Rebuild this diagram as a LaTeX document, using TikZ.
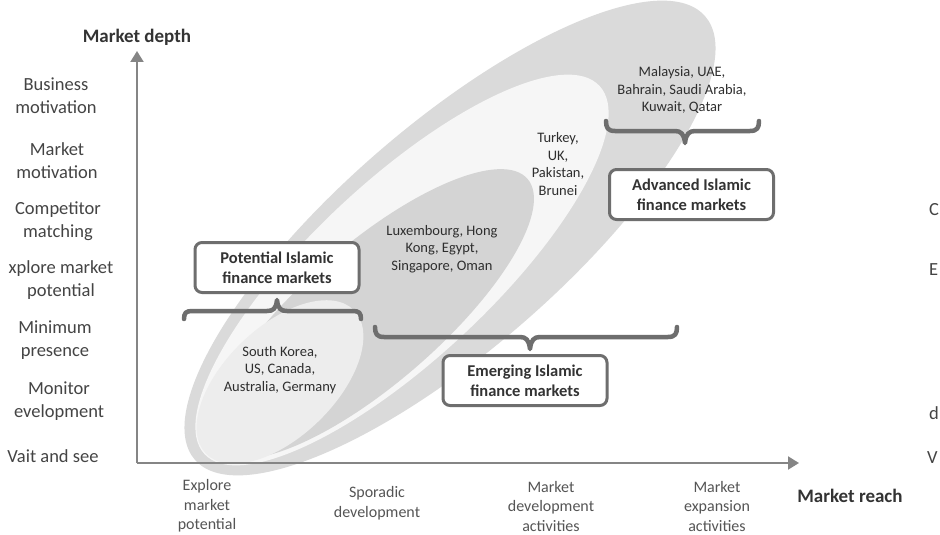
\documentclass[tikz,border=0pt]{standalone}
\usepackage{fontspec}
\setmainfont{Carlito}
\usetikzlibrary{arrows.meta}
\definecolor{outerg}{HTML}{DADADA}
\definecolor{whitish}{HTML}{F6F6F6}
\definecolor{midg}{HTML}{D4D4D4}
\definecolor{lightg}{HTML}{EDEDED}
\definecolor{linec}{HTML}{6E6E6E}
\definecolor{axisc}{HTML}{858585}
\definecolor{textdark}{HTML}{333333}
\definecolor{ylabc}{HTML}{444444}
\definecolor{xlabc}{HTML}{555555}
\definecolor{ctryc}{HTML}{2E2E2E}
\tikzset{
  axisline/.style={draw=axisc, line width=2pt},
  bracel/.style={draw=linec, line width=4.5pt, line cap=round, line join=round},
  catbox/.style={draw=linec, line width=3pt, fill=white, rounded corners=7pt,
    minimum width=164pt, minimum height=50pt, align=center, inner sep=0pt,
    font=\bfseries\fontsize{16.5}{20}\selectfont, text=textdark},
  ylab/.style={align=center, font=\fontsize{18.5}{23}\selectfont, text=ylabc, inner sep=0pt},
  xlab/.style={align=center, font=\fontsize{16}{19.5}\selectfont, text=xlabc, inner sep=0pt},
  ctry/.style={align=center, font=\fontsize{14.5}{17.5}\selectfont, text=ctryc, inner sep=0pt},
  axtitle/.style={font=\bfseries\fontsize{19}{22}\selectfont, text=textdark, inner sep=0pt},
  frag/.style={anchor=west, font=\fontsize{18.5}{23}\selectfont, text=ylabc, inner sep=0pt},
}
\begin{document}
\begin{tikzpicture}[x=1pt,y=-1pt]
\useasboundingbox (0,0) rectangle (940,535);
\fill[white] (0,0) rectangle (940,535);
% nested ellipses
\fill[outerg, rotate around={41:(450,238)}] (450,238) ellipse [x radius=338, y radius=112];
\fill[whitish, rotate around={43:(402,270)}] (402,270) ellipse [x radius=270, y radius=89];
\fill[midg, rotate around={41:(372,314)}] (372,314) ellipse [x radius=206, y radius=69];
\fill[lightg, rotate around={44:(280,382)}] (280,382) ellipse [x radius=103, y radius=55];
% axes
\coordinate (O) at (137,463);
\coordinate (ytop) at (137,51);
\coordinate (xend) at (799,463);
\draw[axisline, -{Triangle[length=11pt,width=13pt]}] (O) -- (ytop);
\draw[axisline, -{Triangle[length=11pt,width=13pt]}] (O) -- (xend);
\node[axtitle] (depth) at (137,37) {Market depth};
\node[axtitle] (reach) at (850,496) {Market reach};
% y labels
\node[ylab] (y1) at (56,96) {Business\\motivation};
\node[ylab] (y2) at (57,161) {Market\\motivation};
\node[ylab] (y3) at (58,221) {Competitor\\matching};
\node[ylab] (y4) at (61,280) {xplore market\\potential};
\node[ylab] (y5) at (55,340) {Minimum\\presence};
\node[ylab] (y6) at (59,401) {Monitor\\evelopment};
\node[ylab] (y7) at (53,456) {Vait and see};
% fragments at right edge
\node[frag] (f1) at (929,210) {C};
\node[frag] (f2) at (929,270) {E};
\node[frag] (f3) at (929,413) {d};
\node[frag] (f4) at (927,458) {V};
% x labels
\node[xlab] (x1) at (207,506) {Explore\\market\\potential};
\node[xlab] (x2) at (377,503) {Sporadic\\development};
\node[xlab] (x3) at (551,506) {Market\\development\\activities};
\node[xlab] (x4) at (717,506) {Market\\expansion\\activities};
% braces
\draw[bracel] (184,319) .. controls (184,313) and (186,311) .. (192,311) -- (267,311)
  .. controls (273,311) and (276,309) .. (277,300)
  .. controls (278,309) and (281,311) .. (287,311) -- (353,311)
  .. controls (359,311) and (361,313) .. (361,319);
\draw[bracel] (375,327) .. controls (375,334) and (377,337) .. (384,337) -- (520,337)
  .. controls (526,337) and (529,340) .. (530,349)
  .. controls (531,340) and (534,337) .. (540,337) -- (668,337)
  .. controls (675,337) and (677,334) .. (677,327);
\draw[bracel] (606,121) .. controls (606,128) and (608,131) .. (615,131) -- (675,131)
  .. controls (681,131) and (684,134) .. (685,143)
  .. controls (686,134) and (689,131) .. (695,131) -- (750,131)
  .. controls (757,131) and (759,128) .. (759,121);
% boxes
\node[catbox] (pot) at (277,267.5) {Potential Islamic\\finance markets};
\node[catbox] (emg) at (525,380.5) {Emerging Islamic\\finance markets};
\node[catbox] (adv) at (691.5,194.5) {Advanced Islamic\\finance markets};
% countries
\node[ctry] (c1) at (682,90) {Malaysia, UAE,\\Bahrain, Saudi Arabia,\\Kuwait, Qatar};
\node[ctry] (c2) at (558,164) {Turkey,\\UK,\\Pakistan,\\Brunei};
\node[ctry] (c3) at (442,249) {Luxembourg, Hong\\Kong, Egypt,\\Singapore, Oman};
\node[ctry] (c4) at (280,370) {South Korea,\\US, Canada,\\Australia, Germany};
\end{tikzpicture}
\end{document}
